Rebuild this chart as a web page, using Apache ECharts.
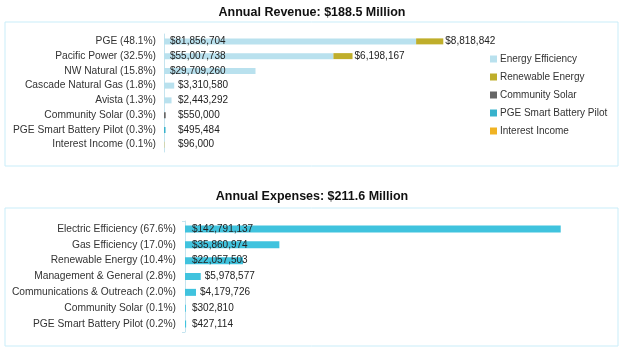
<!DOCTYPE html>
<html lang="en">
<head>
    <meta charset="utf-8">
    <title>Annual Revenue and Expenses</title>
    <script src="https://cdn.jsdelivr.net/npm/echarts@6/dist/echarts.min.js"></script>
    <style>
        html, body { margin: 0; padding: 0; background: #fff; }
        #main { width: 624px; height: 354px; }
    </style>
</head>
<body>
    <div id="main"></div>
    <script type="text/javascript">

    // revenue categories and series (one category per funding source)
    var revCats = ['PGE (48.1%)', 'Pacific Power (32.5%)', 'NW Natural (15.8%)', 'Cascade Natural Gas (1.8%)',
                   'Avista (1.3%)', 'Community Solar (0.3%)', 'PGE Smart Battery Pilot (0.3%)', 'Interest Income (0.1%)'];
    var revEnergyEff  = [81856704, 55007738, 29709260, 3310580, 2443292, 0, 0, 0];
    var revRenewable  = [8818842, 6198167, 0, 0, 0, 0, 0, 0];
    var revCommSolar  = [0, 0, 0, 0, 0, 550000, 0, 0];
    var revBattery    = [0, 0, 0, 0, 0, 0, 495484, 0];
    var revInterest   = [0, 0, 0, 0, 0, 0, 0, 96000];

    // expenses
    var expCats = ['Electric Efficiency (67.6%)', 'Gas Efficiency (17.0%)', 'Renewable Energy (10.4%)',
                   'Management & General (2.8%)', 'Communications & Outreach (2.0%)',
                   'Community Solar (0.1%)', 'PGE Smart Battery Pilot (0.2%)'];
    var expValues = [142791137, 35860974, 22057503, 5978577, 4179726, 302810, 427114];

    var FONT = 'Liberation Sans, Arial, sans-serif';

    function money(v) {
        return '$' + v.toLocaleString('en-US');
    }

    // data items with label placement for revenue series
    function revItems(arr, outside) {
        return arr.map(function (v) {
            if (!v) return { value: v, label: { show: false } };
            if (outside) return { value: v, label: { position: 'right', distance: 2 } };
            return {
                value: v,
                label: {
                    position: 'insideLeft',
                    distance: v > 20000000 ? 6 : 14
                }
            };
        });
    }

    var expItems = expValues.map(function (v) {
        if (v > 20000000) return { value: v, label: { position: 'insideLeft', distance: 7 } };
        if (v > 1000000) return { value: v, label: { position: 'right', distance: 4 } };
        return { value: v, label: { position: 'insideLeft', distance: 7 } };
    });

    var labelStyle = {
        show: true,
        color: '#222',
        fontSize: 10,
        fontFamily: FONT,
        formatter: function (p) { return money(p.value); }
    };

    function revSeries(name, arr, color, outside) {
        return {
            name: name,
            type: 'bar',
            stack: 'rev',
            xAxisIndex: 0,
            yAxisIndex: 0,
            barWidth: 6,
            itemStyle: { color: color },
            label: labelStyle,
            data: revItems(arr, outside)
        };
    }

    var chart = echarts.init(document.getElementById('main'));
    chart.setOption({
        animation: false,
        textStyle: { fontFamily: FONT },
        title: [{
            text: 'Annual Revenue: $188.5 Million',
            left: 'center',
            top: 1,
            textStyle: { fontSize: 12.5, fontWeight: 'bold', color: '#111', fontFamily: FONT }
        }, {
            text: 'Annual Expenses: $211.6 Million',
            left: 'center',
            top: 185,
            textStyle: { fontSize: 12.5, fontWeight: 'bold', color: '#111', fontFamily: FONT }
        }],
        graphic: [{
            type: 'rect',
            shape: { x: 5, y: 22, width: 613, height: 144 },
            style: { fill: 'none', stroke: '#c9edf9', lineWidth: 1 }
        }, {
            type: 'rect',
            shape: { x: 5, y: 208, width: 613, height: 138 },
            style: { fill: 'none', stroke: '#c9edf9', lineWidth: 1 }
        }],
        legend: {
            orient: 'vertical',
            left: 485,
            top: 49,
            itemWidth: 7,
            itemHeight: 7,
            itemGap: 8,
            icon: 'rect',
            textStyle: { fontSize: 10, color: '#333', fontFamily: FONT, padding: [0, 0, 0, -2] },
            data: ['Energy Efficiency', 'Renewable Energy', 'Community Solar', 'PGE Smart Battery Pilot', 'Interest Income']
        },
        grid: [
            { left: 164, top: 34, width: 308, height: 118 },
            { left: 185, top: 221, width: 421, height: 111 }
        ],
        xAxis: [{
            gridIndex: 0, type: 'value', min: 0, max: 100000000, show: false
        }, {
            gridIndex: 1, type: 'value', min: 0, max: 160000000, show: false
        }],
        yAxis: [{
            gridIndex: 0,
            type: 'category',
            inverse: true,
            data: revCats,
            axisLine: { lineStyle: { color: '#c5e4ef' } },
            axisTick: { show: false },
            axisLabel: { fontSize: 10.25, color: '#333', margin: 8, fontFamily: FONT }
        }, {
            gridIndex: 1,
            type: 'category',
            inverse: true,
            data: expCats,
            axisLine: { lineStyle: { color: '#c5e4ef' } },
            axisTick: {
                show: true,
                length: 3,
                lineStyle: { color: '#c5e4ef' },
                interval: function (i) { return i === 0 || i === expCats.length; }
            },
            axisLabel: { fontSize: 10.25, color: '#333', margin: 9, fontFamily: FONT }
        }],
        series: [
            revSeries('Energy Efficiency', revEnergyEff, '#b9e1ee', false),
            revSeries('Renewable Energy', revRenewable, '#bfae2b', true),
            revSeries('Community Solar', revCommSolar, '#666666', false),
            revSeries('PGE Smart Battery Pilot', revBattery, '#38b2cc', false),
            revSeries('Interest Income', revInterest, '#f0b323', false),
            {
                name: 'Expenses',
                type: 'bar',
                xAxisIndex: 1,
                yAxisIndex: 1,
                barWidth: 7,
                itemStyle: { color: '#40c3de' },
                label: labelStyle,
                data: expItems
            }
        ]
    });
    </script>
</body>
</html>
